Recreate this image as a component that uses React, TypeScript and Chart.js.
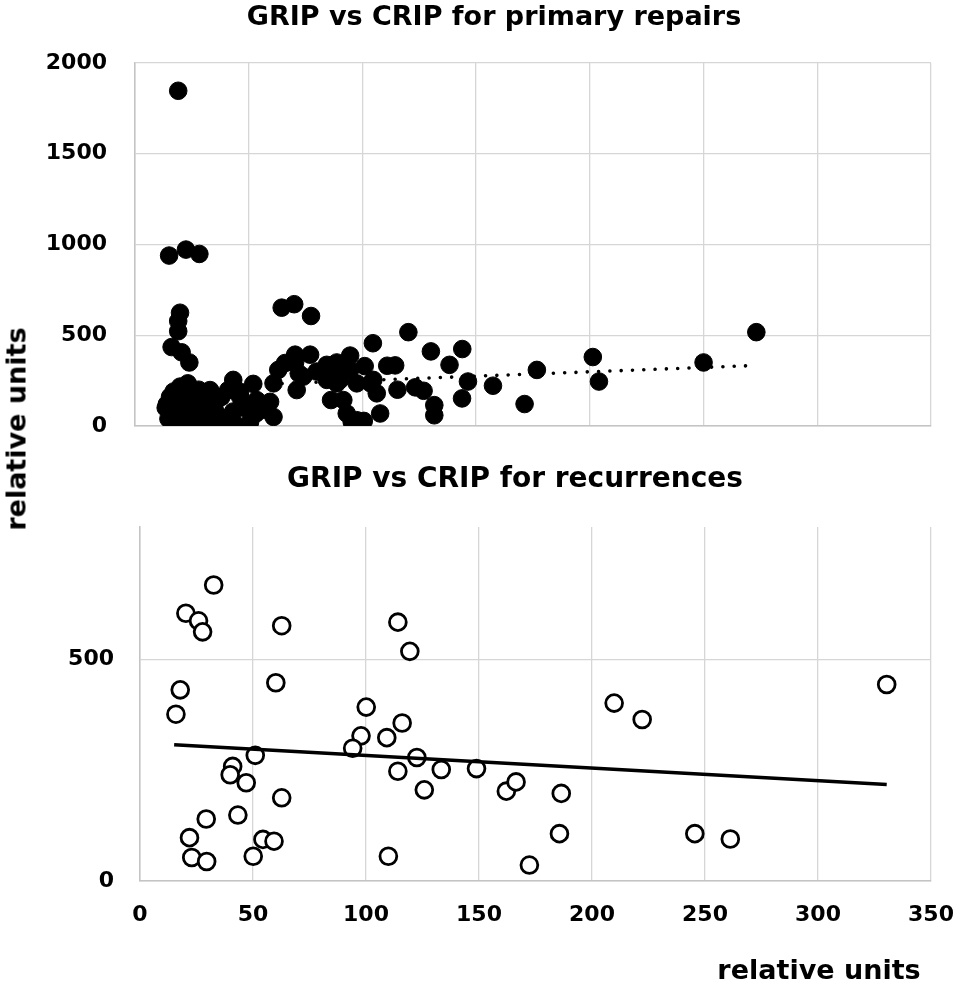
import React, { useEffect, useRef } from "react";
import { Chart, registerables } from "chart.js";

Chart.register(...registerables);

const FONT = "'DejaVu Sans', 'Liberation Sans', sans-serif";

// ---- Top chart: primary repairs (CRIP on x, GRIP on y) ----
const primaryX = [
  19, 15, 22.4, 28.3, 19.8, 19, 19, 16.1, 20.5, 23.9,
  64.5, 70, 77.4, 104.6, 120.2, 130.1, 143.9, 138.3, 146.4, 143.8,
  131.6, 131.6, 115.4, 123.2, 126.9, 106.3, 107.8, 95.3, 100.6, 110.9,
  114.4, 101, 104.8, 94.6, 86.2, 91.6, 93.1, 97.5, 157.4, 176.7,
  171.3, 201.3, 204, 250, 273.2, 70.4, 77, 66, 63, 84.3,
  88.7, 79.9, 74, 71.1, 60.9, 88.7, 97.5, 103.6, 70.4, 88.7,
  94.6, 90.2, 84.3, 43.2, 52, 33, 41, 46.2, 53.5, 59.4,
  60.9, 50.6, 41.8, 35.9, 29.3, 19.8, 23.2, 15.4, 15.4, 21.3,
  25.6, 18.4, 22.3, 28.6, 31.5, 27.9, 19.8, 14.7, 36.7, 43.2,
  43.9, 53.2, 46.2, 17, 24, 30, 26, 35, 38, 48,
  57, 33, 17, 22, 72, 13.5, 20, 25, 30, 32,
  28, 18, 24, 14, 26, 38,
];
const primaryY = [
  1847, 939, 972, 948, 624, 578, 522, 435, 406, 350,
  652, 671, 606, 456, 517, 411, 424, 337, 245, 152,
  115, 59, 200, 213, 194, 180, 69, 22, 28, 332,
  334, 330, 254, 388, 143, 143, 69, 32, 222, 309,
  121, 380, 245, 350, 517, 393, 393, 347, 309, 337,
  309, 300, 272, 198, 235, 235, 235, 235, 350, 350,
  309, 254, 254, 254, 232, 198, 198, 161, 143, 133,
  50, 22, 22, 69, 40, 217, 235, 161, 50, 22,
  87, 124, 161, 143, 15, 30, 13, 40, 50, 80,
  13, 69, 189, 100, 110, 180, 60, 120, 160, 100,
  90, 90, 190, 190, 290, 100, 70, 160, 100, 60,
  200, 40, 30, 120, 20, 30,
];
const primaryTrendX = [15, 272];
const primaryTrendY = [210, 333];

// ---- Bottom chart: recurrences ----
const recurrenceX = [
  32.6, 20.3, 25.9, 27.7, 62.7, 114.1, 119.4, 17.8, 15.9, 60.1,
  100.1, 97.8, 94.1, 109.2, 116, 51, 41, 39.9, 47, 62.7,
  122.5, 114.1, 133.3, 125.8, 148.9, 43.3, 29.3, 21.9, 22.9, 29.5,
  54.4, 59.3, 50.1, 109.9, 209.8, 222.2, 330.4, 162.1, 166.4, 186.4,
  185.6, 172.3, 245.5, 261.2,
];
const recurrenceY = [
  669, 605, 588, 563, 577, 585, 519, 432, 377, 448,
  393, 328, 300, 324, 357, 284, 259, 240, 222, 188,
  279, 248, 252, 206, 254, 149, 140, 98, 53, 44,
  94, 90, 56, 56, 402, 365, 444, 203, 224, 198,
  107, 36, 107, 95,
];
const recurrenceTrendX = [15.1, 330.4];
const recurrenceTrendY = [308, 218];

// ---- Axis ticks / labels ----
const xTickStep = 50;
const xMin = 0;
const xMax = 350;
const primaryYTicks = [0, 500, 1000, 1500, 2000];
const recurrenceYTicks = [0, 500];
const recurrenceYMax = 800;

const primaryTitle = "GRIP vs CRIP for primary repairs";
const recurrenceTitle = "GRIP vs CRIP for recurrences";
const axisTitle = "relative units";

const GRID = "#d6d6d6";
const AXIS = "#c4c4c4";

const pts = (xs: number[], ys: number[]) => xs.map((x, i) => ({ x, y: ys[i] }));

const tickFont = { family: FONT, size: 22, weight: "bold" as const };
const plain = (v: any) => String(v);

function TopChart() {
  const ref = useRef<HTMLCanvasElement | null>(null);
  useEffect(() => {
    if (!ref.current) return;
    const chart = new Chart(ref.current, {
      type: "scatter",
      data: {
        datasets: [
          {
            data: pts(primaryTrendX, primaryTrendY),
            showLine: true,
            borderColor: "#000",
            borderWidth: 3.6,
            borderDash: [0.01, 11.3],
            borderCapStyle: "round",
            pointRadius: 0,
            fill: false,
          } as any,
          {
            data: pts(primaryX, primaryY),
            backgroundColor: "#000",
            borderColor: "#000",
            borderWidth: 1,
            pointRadius: 8.8,
          },
        ],
      },
      options: {
        animation: false,
        responsive: false,
        devicePixelRatio: 1,
        events: [],
        layout: { padding: { top: 63, right: 26, left: 0, bottom: 0 } },
        plugins: { legend: { display: false }, tooltip: { enabled: false }, title: { display: false } },
        scales: {
          x: {
            type: "linear",
            min: xMin,
            max: xMax,
            ticks: { stepSize: xTickStep, display: false },
            grid: { color: GRID, lineWidth: 1.3, drawTicks: false },
            border: { color: AXIS, width: 1.5 },
            afterFit: (s: any) => {
              s.height = 14;
              s.paddingLeft = 0;
              s.paddingRight = 0;
            },
          },
          y: {
            type: "linear",
            min: primaryYTicks[0],
            max: primaryYTicks[primaryYTicks.length - 1],
            ticks: { stepSize: 500, font: tickFont, color: "#000", padding: 28, callback: plain },
            afterBuildTicks: (s: any) => {
              s.ticks = primaryYTicks.map((v) => ({ value: v }));
            },
            grid: { color: GRID, lineWidth: 1.3, drawTicks: false },
            border: { color: AXIS, width: 1.5 },
            afterFit: (s: any) => {
              s.width = 135;
              s.paddingTop = 0;
              s.paddingBottom = 0;
            },
          },
        },
      },
    });
    return () => chart.destroy();
  }, []);
  return <canvas ref={ref} width={957} height={440} style={{ position: "absolute", left: 0, top: 0, width: 957, height: 440 }} />;
}

function BottomChart() {
  const ref = useRef<HTMLCanvasElement | null>(null);
  useEffect(() => {
    if (!ref.current) return;
    const chart = new Chart(ref.current, {
      type: "scatter",
      data: {
        datasets: [
          {
            data: pts(recurrenceTrendX, recurrenceTrendY),
            showLine: true,
            borderColor: "#000",
            borderWidth: 3.6,
            pointRadius: 0,
            fill: false,
          } as any,
          {
            data: pts(recurrenceX, recurrenceY),
            backgroundColor: "#fff",
            borderColor: "#000",
            borderWidth: 2.8,
            pointRadius: 8.4,
          },
        ],
      },
      options: {
        animation: false,
        responsive: false,
        devicePixelRatio: 1,
        events: [],
        layout: { padding: { top: 77, right: 26, left: 0, bottom: 0 } },
        plugins: { legend: { display: false }, tooltip: { enabled: false }, title: { display: false } },
        scales: {
          x: {
            type: "linear",
            min: xMin,
            max: xMax,
            ticks: { stepSize: xTickStep, font: tickFont, color: "#000", padding: 21, maxRotation: 0, callback: plain },
            grid: { color: GRID, lineWidth: 1.3, drawTicks: false },
            border: { color: AXIS, width: 1.5 },
            afterFit: (s: any) => {
              s.height = 107;
              s.paddingLeft = 0;
              s.paddingRight = 0;
            },
          },
          y: {
            type: "linear",
            min: 0,
            max: recurrenceYMax,
            ticks: { stepSize: 500, includeBounds: false, font: tickFont, color: "#000", padding: 26, callback: plain },
            afterBuildTicks: (s: any) => {
              s.ticks = recurrenceYTicks.map((v) => ({ value: v }));
            },
            grid: { color: GRID, lineWidth: 1.3, drawTicks: false },
            border: { color: AXIS, width: 1.5 },
            afterFit: (s: any) => {
              s.width = 140;
              s.paddingTop = 0;
              s.paddingBottom = 0;
            },
          },
        },
      },
    });
    return () => chart.destroy();
  }, []);
  return <canvas ref={ref} width={957} height={538} style={{ position: "absolute", left: 0, top: 450, width: 957, height: 538 }} />;
}

const textBase: React.CSSProperties = {
  position: "absolute",
  fontFamily: FONT,
  fontWeight: "bold",
  color: "#000",
  whiteSpace: "nowrap",
  lineHeight: 1,
};

export default function App() {
  return (
    <div style={{ position: "absolute", left: 0, top: 0, width: 957, height: 988, background: "#fff", overflow: "hidden" }}>
      <TopChart />
      <BottomChart />
      <div style={{ ...textBase, fontSize: 27, left: 494, top: 15, transform: "translate(-50%, -50%)" }}>{primaryTitle}</div>
      <div style={{ ...textBase, fontSize: 28, left: 515, top: 478, transform: "translate(-50%, -50%)" }}>{recurrenceTitle}</div>
      <div style={{ ...textBase, fontSize: 27, left: 16, top: 429, transform: "translate(-50%, -50%) rotate(-90deg)" }}>{axisTitle}</div>
      <div style={{ ...textBase, fontSize: 27, left: 819, top: 969, transform: "translate(-50%, -50%)" }}>{axisTitle}</div>
    </div>
  );
}
